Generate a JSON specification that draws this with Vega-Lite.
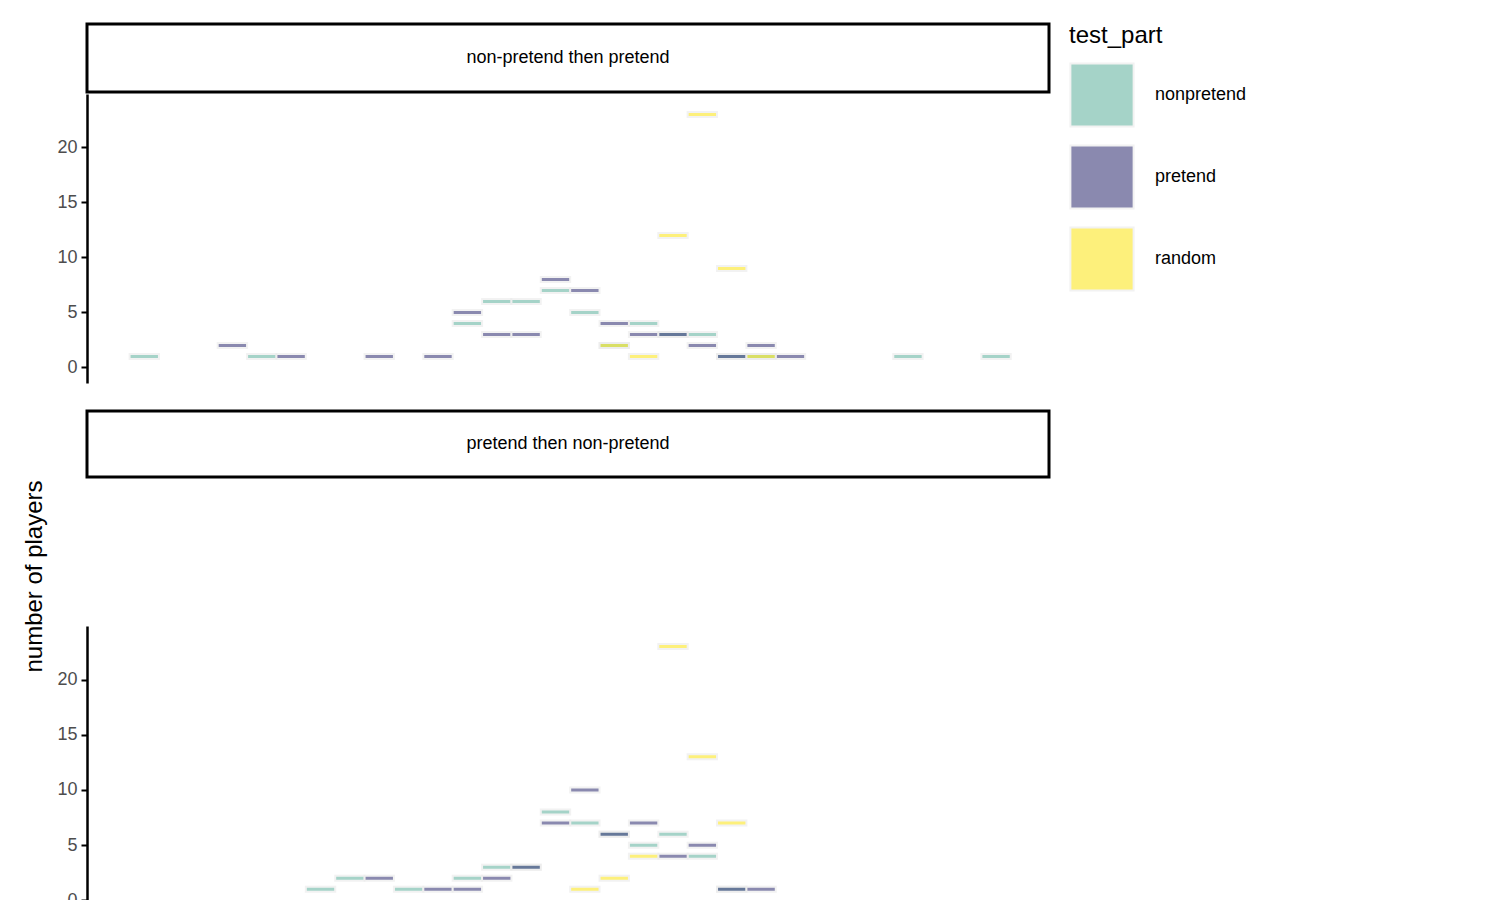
{
"$schema":"https://vega.github.io/schema/vega-lite/v6.json",
"background":"white",
"padding":{"top":22,"left":22,"right":10,"bottom":10},
"config":{"font":"Liberation Sans","view":{"stroke":null},
"axis":{"labelFontSize":18,"labelColor":"#4D4D4D","titleFontSize":22,"titleFontWeight":"normal","titleColor":"black","domainColor":"black","domainWidth":2.5,"tickColor":"black","tickWidth":2,"tickSize":6,"grid":false,"labelPadding":4},
"legend":{"titleFontSize":24,"titleFontWeight":"normal","labelFontSize":18,"symbolType":"square","symbolSize":4000,"symbolStrokeColor":"#EBEBEB","symbolStrokeWidth":2,"symbolOpacity":0.6,"rowPadding":10,"labelOffset":20,"titlePadding":14}},
"resolve":{"scale":{"x":"independent","y":"independent"}},
"vconcat":[
 {"width":962,"height":68,"data":{"values":[{"t":"non-pretend then pretend"}]},"view":{"stroke":"black","strokeWidth":3},
  "mark":{"type":"text","fontSize":18,"color":"black"},
  "encoding":{"text":{"field":"t"},"x":{"datum":0.5,"type":"quantitative","scale":{"domain":[0,1]},"axis":null},"y":{"datum":0.5,"type":"quantitative","scale":{"domain":[0,1]},"axis":null}}},
 {"width":962,"height":289,"data":{"values":[
{"g":"nonpretend","lo":1.5,"hi":2.107,"n":1},{"g":"nonpretend","lo":3.928,"hi":4.535,"n":1},{"g":"nonpretend","lo":8.177,"hi":8.784,"n":4},{"g":"nonpretend","lo":8.784,"hi":9.391,"n":6},{"g":"nonpretend","lo":9.391,"hi":9.998,"n":6},{"g":"nonpretend","lo":9.998,"hi":10.605,"n":7},{"g":"nonpretend","lo":10.605,"hi":11.212,"n":5},{"g":"nonpretend","lo":11.212,"hi":11.819,"n":2},{"g":"nonpretend","lo":11.819,"hi":12.426,"n":4},{"g":"nonpretend","lo":12.426,"hi":13.033,"n":3},{"g":"nonpretend","lo":13.033,"hi":13.64,"n":3},{"g":"nonpretend","lo":13.64,"hi":14.247,"n":1},{"g":"nonpretend","lo":14.247,"hi":14.854,"n":1},{"g":"nonpretend","lo":17.282,"hi":17.889,"n":1},{"g":"nonpretend","lo":19.103,"hi":19.71,"n":1},
{"g":"pretend","lo":3.321,"hi":3.928,"n":2},{"g":"pretend","lo":4.535,"hi":5.142,"n":1},{"g":"pretend","lo":6.356,"hi":6.963,"n":1},{"g":"pretend","lo":7.57,"hi":8.177,"n":1},{"g":"pretend","lo":8.177,"hi":8.784,"n":5},{"g":"pretend","lo":8.784,"hi":9.391,"n":3},{"g":"pretend","lo":9.391,"hi":9.998,"n":3},{"g":"pretend","lo":9.998,"hi":10.605,"n":8},{"g":"pretend","lo":10.605,"hi":11.212,"n":7},{"g":"pretend","lo":11.212,"hi":11.819,"n":4},{"g":"pretend","lo":11.819,"hi":12.426,"n":3},{"g":"pretend","lo":12.426,"hi":13.033,"n":3},{"g":"pretend","lo":13.033,"hi":13.64,"n":2},{"g":"pretend","lo":13.64,"hi":14.247,"n":1},{"g":"pretend","lo":14.247,"hi":14.854,"n":2},{"g":"pretend","lo":14.854,"hi":15.461,"n":1},
{"g":"random","lo":11.212,"hi":11.819,"n":2},{"g":"random","lo":11.819,"hi":12.426,"n":1},{"g":"random","lo":12.426,"hi":13.033,"n":12},{"g":"random","lo":13.033,"hi":13.64,"n":23},{"g":"random","lo":13.64,"hi":14.247,"n":9},{"g":"random","lo":14.247,"hi":14.854,"n":1}]},
  "mark":{"type":"bar","opacity":0.6,"stroke":"#EBEBEB","strokeWidth":2,"strokeOpacity":1},
  "encoding":{"x":{"field":"lo","type":"quantitative","scale":{"domain":[0.62,20.5],"nice":false,"zero":false},"axis":null},"x2":{"field":"hi"},
   "y":{"field":"n","type":"quantitative","scale":{"domain":[-0.96,24.4],"nice":false,"zero":false},"axis":{"values":[0,5,10,15,20],"title":null}},
   "color":{"field":"g","type":"nominal","title":"test_part","scale":{"domain":["nonpretend","pretend","random"],"range":["#6AB7A4","#3D3C7B","#FDE725"]}}}},
 {"width":962,"height":26,"data":{"values":[{"t":""}]},"mark":{"type":"text"},
  "encoding":{"text":{"field":"t"},"x":{"datum":0.5,"type":"quantitative","scale":{"domain":[0,1]},"axis":null},"y":{"datum":0.5,"type":"quantitative","scale":{"domain":[0,1]},"axis":null}}},
 {"width":962,"height":66,"data":{"values":[{"t":"pretend then non-pretend"}]},"view":{"stroke":"black","strokeWidth":3},
  "mark":{"type":"text","fontSize":18,"color":"black"},
  "encoding":{"text":{"field":"t"},"x":{"datum":0.5,"type":"quantitative","scale":{"domain":[0,1]},"axis":null},"y":{"datum":0.5,"type":"quantitative","scale":{"domain":[0,1]},"axis":null}}},
 {"width":962,"height":290,"data":{"values":[
{"g":"nonpretend","lo":5.142,"hi":5.749,"n":1},{"g":"nonpretend","lo":5.749,"hi":6.356,"n":2},{"g":"nonpretend","lo":6.963,"hi":7.57,"n":1},{"g":"nonpretend","lo":8.177,"hi":8.784,"n":2},{"g":"nonpretend","lo":8.784,"hi":9.391,"n":3},{"g":"nonpretend","lo":9.391,"hi":9.998,"n":3},{"g":"nonpretend","lo":9.998,"hi":10.605,"n":8},{"g":"nonpretend","lo":10.605,"hi":11.212,"n":7},{"g":"nonpretend","lo":11.212,"hi":11.819,"n":6},{"g":"nonpretend","lo":11.819,"hi":12.426,"n":5},{"g":"nonpretend","lo":12.426,"hi":13.033,"n":6},{"g":"nonpretend","lo":13.033,"hi":13.64,"n":4},{"g":"nonpretend","lo":13.64,"hi":14.247,"n":1},
{"g":"pretend","lo":6.356,"hi":6.963,"n":2},{"g":"pretend","lo":7.57,"hi":8.177,"n":1},{"g":"pretend","lo":8.177,"hi":8.784,"n":1},{"g":"pretend","lo":8.784,"hi":9.391,"n":2},{"g":"pretend","lo":9.391,"hi":9.998,"n":3},{"g":"pretend","lo":9.998,"hi":10.605,"n":7},{"g":"pretend","lo":10.605,"hi":11.212,"n":10},{"g":"pretend","lo":11.212,"hi":11.819,"n":6},{"g":"pretend","lo":11.819,"hi":12.426,"n":7},{"g":"pretend","lo":12.426,"hi":13.033,"n":4},{"g":"pretend","lo":13.033,"hi":13.64,"n":5},{"g":"pretend","lo":13.64,"hi":14.247,"n":1},{"g":"pretend","lo":14.247,"hi":14.854,"n":1},
{"g":"random","lo":10.605,"hi":11.212,"n":1},{"g":"random","lo":11.212,"hi":11.819,"n":2},{"g":"random","lo":11.819,"hi":12.426,"n":4},{"g":"random","lo":12.426,"hi":13.033,"n":23},{"g":"random","lo":13.033,"hi":13.64,"n":13},{"g":"random","lo":13.64,"hi":14.247,"n":7}]},
  "mark":{"type":"bar","opacity":0.6,"stroke":"#EBEBEB","strokeWidth":2,"strokeOpacity":1},
  "encoding":{"x":{"field":"lo","type":"quantitative","scale":{"domain":[0.62,20.5],"nice":false,"zero":false},"axis":{"values":[5,10,15,20],"title":"p(letter in word) - rank","titleFontSize":24,"titlePadding":10}},"x2":{"field":"hi"},
   "y":{"field":"n","type":"quantitative","scale":{"domain":[-0.96,24.4],"nice":false,"zero":false},"axis":{"values":[0,5,10,15,20],"title":"number of players","titleFontSize":24,"titleY":-50,"titlePadding":10}},
   "color":{"field":"g","type":"nominal","title":"test_part","scale":{"domain":["nonpretend","pretend","random"],"range":["#6AB7A4","#3D3C7B","#FDE725"]}}}}
],"spacing":0
}
